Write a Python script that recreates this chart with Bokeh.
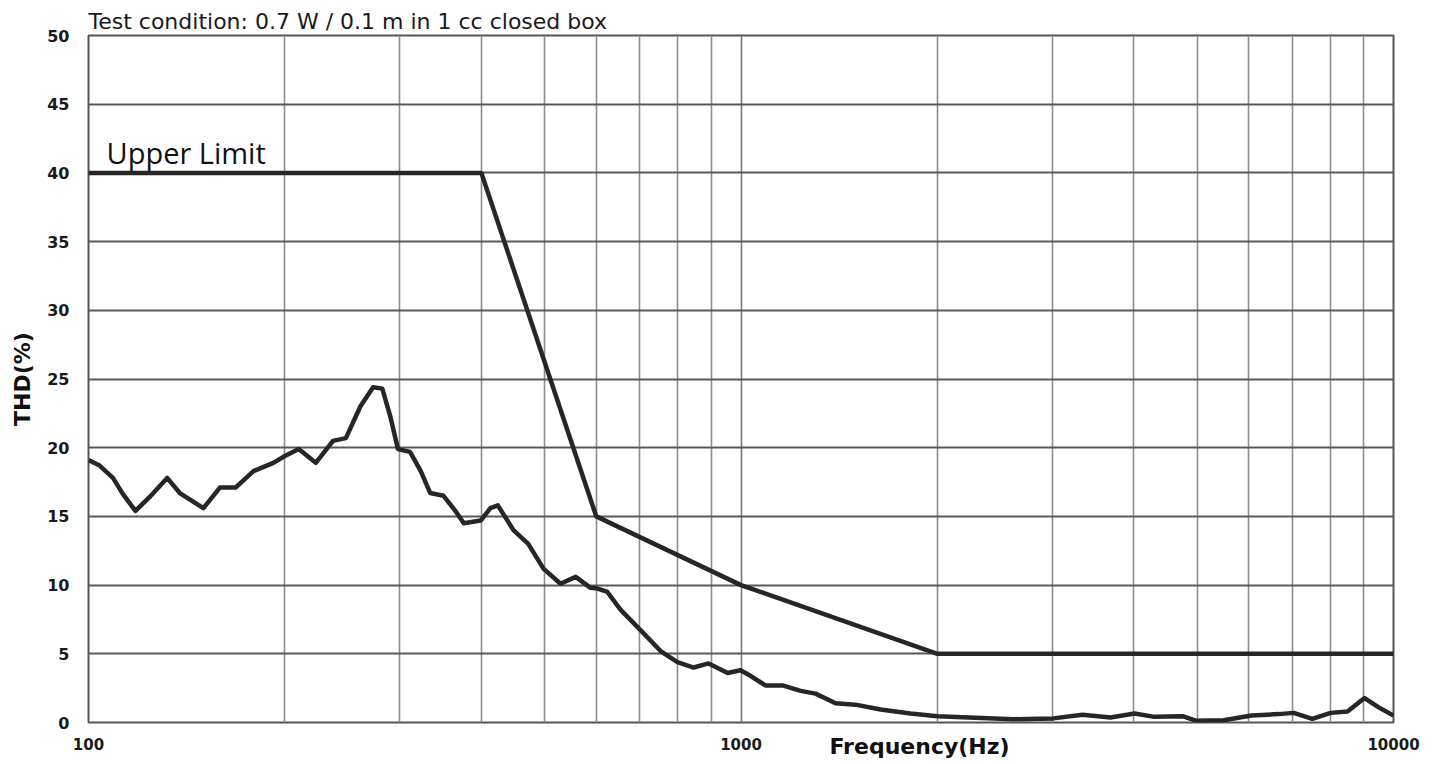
from bokeh.plotting import figure
from bokeh.models import Range1d, FixedTicker, Label, Title
from bokeh.embed import file_html
from bokeh.resources import INLINE

# ---- data ----
limit_freq = [100, 400, 600, 1000, 2000, 10000]
limit_thd = [40, 40, 15, 10, 5, 5]

thd_freq = [100, 104, 109, 113, 118, 124, 132, 138, 150, 159, 168, 179, 192, 200,
            210, 223, 237, 248, 261, 273, 282, 290, 298, 311, 323, 334, 350, 365,
            376, 399, 413, 424, 448, 472, 498, 529, 558, 588, 603, 624, 654, 702,
            753, 799, 846, 892, 954, 998, 1034, 1090, 1158, 1234, 1301, 1396, 1498,
            1636, 1819, 2000, 2616, 3010, 3338, 3684, 4010, 4302, 4750, 4990, 5490,
            6060, 6670, 7030, 7510, 8010, 8500, 9030, 9490, 10000]
thd_val = [19.1, 18.7, 17.8, 16.6, 15.4, 16.4, 17.8, 16.7, 15.6, 17.1, 17.1, 18.3, 18.9, 19.4,
           19.9, 18.9, 20.5, 20.7, 23.0, 24.4, 24.3, 22.3, 19.9, 19.7, 18.3, 16.7, 16.5, 15.4,
           14.5, 14.7, 15.6, 15.8, 14.0, 13.0, 11.2, 10.1, 10.6, 9.8, 9.75, 9.5, 8.2, 6.7,
           5.2, 4.4, 4.0, 4.3, 3.6, 3.8, 3.4, 2.7, 2.7, 2.3, 2.1, 1.4, 1.3,
           0.95, 0.65, 0.45, 0.24, 0.3, 0.56, 0.37, 0.66, 0.41, 0.46, 0.12, 0.17,
           0.51, 0.61, 0.7, 0.27, 0.7, 0.8, 1.78, 1.1, 0.5]

y_ticks = [0, 5, 10, 15, 20, 25, 30, 35, 40, 45, 50]
x_major = [100, 1000, 10000]
x_minor = [200, 300, 400, 500, 600, 700, 800, 900,
           2000, 3000, 4000, 5000, 6000, 7000, 8000, 9000]

title_text = "Test condition: 0.7 W / 0.1 m in 1 cc closed box"
limit_text = "Upper Limit"
x_label = "Frequency(Hz)"
y_label = "THD(%)"

# ---- figure ----
p = figure(x_axis_type="log", frame_width=1305, frame_height=687,
           x_range=Range1d(100, 10000), y_range=Range1d(0, 50),
           output_backend="svg", toolbar_location=None,
           min_border_left=88, min_border_right=40, min_border_top=35, min_border_bottom=42)
p.background_fill_color = "white"
p.border_fill_color = "white"
p.outline_line_color = "#555555"
p.outline_line_width = 2

# title
p.title.text = title_text
p.title.align = "left"
p.title.text_font = "DejaVu Sans"
p.title.text_font_size = "22px"
p.title.text_font_style = "normal"
p.title.text_color = "#1a1a1a"
p.title.standoff = 3

# axes
p.xaxis.ticker = FixedTicker(ticks=x_major, minor_ticks=x_minor)
p.xaxis.major_label_overrides = {100: "100", 1000: "1000", 10000: "10000"}
p.yaxis.ticker = FixedTicker(ticks=y_ticks)
for ax in (p.xaxis[0], p.yaxis[0]):
    ax.axis_line_color = None
    ax.major_tick_line_color = None
    ax.minor_tick_line_color = None
    ax.major_tick_out = 0
    ax.minor_tick_out = 0
    ax.major_label_text_font = "DejaVu Sans"
    ax.major_label_text_font_style = "bold"
    ax.major_label_text_color = "#1a1a1a"
p.xaxis.major_label_text_font_size = "15px"
p.xaxis.major_label_standoff = 15
p.yaxis.major_label_text_font_size = "16px"
p.yaxis.major_label_standoff = 19

p.yaxis.axis_label = y_label
p.yaxis.axis_label_text_font = "DejaVu Sans"
p.yaxis.axis_label_text_font_style = "bold"
p.yaxis.axis_label_text_font_size = "22px"
p.yaxis.axis_label_text_color = "#111111"
p.yaxis.axis_label_standoff = 9

p.add_layout(Title(text=x_label, align="left", offset=741, standoff=-38,
                   vertical_align="top", text_baseline="top",
                   text_font="DejaVu Sans", text_font_style="bold",
                   text_font_size="22px", text_color="#111111"), "below")

# grids
p.xgrid.grid_line_color = "#777777"
p.xgrid.grid_line_width = 1.6
p.xgrid.minor_grid_line_color = "#8c8c8c"
p.xgrid.minor_grid_line_width = 1.6
p.ygrid.grid_line_color = "#5a5a5a"
p.ygrid.grid_line_width = 1.8

# lines
p.line(limit_freq, limit_thd, line_color="#262626", line_width=4.5)
p.line(thd_freq, thd_val, line_color="#262626", line_width=4.5, line_join="round")

# in-plot text
p.add_layout(Label(x=100 * 10 ** (18 / 652.5), y=41.45, text=limit_text, text_font="Open Sans",
                   text_font_size="29px", text_color="#111111",
                   text_align="left", text_baseline="alphabetic"))

open("out.html", "w").write(file_html(p, INLINE))
